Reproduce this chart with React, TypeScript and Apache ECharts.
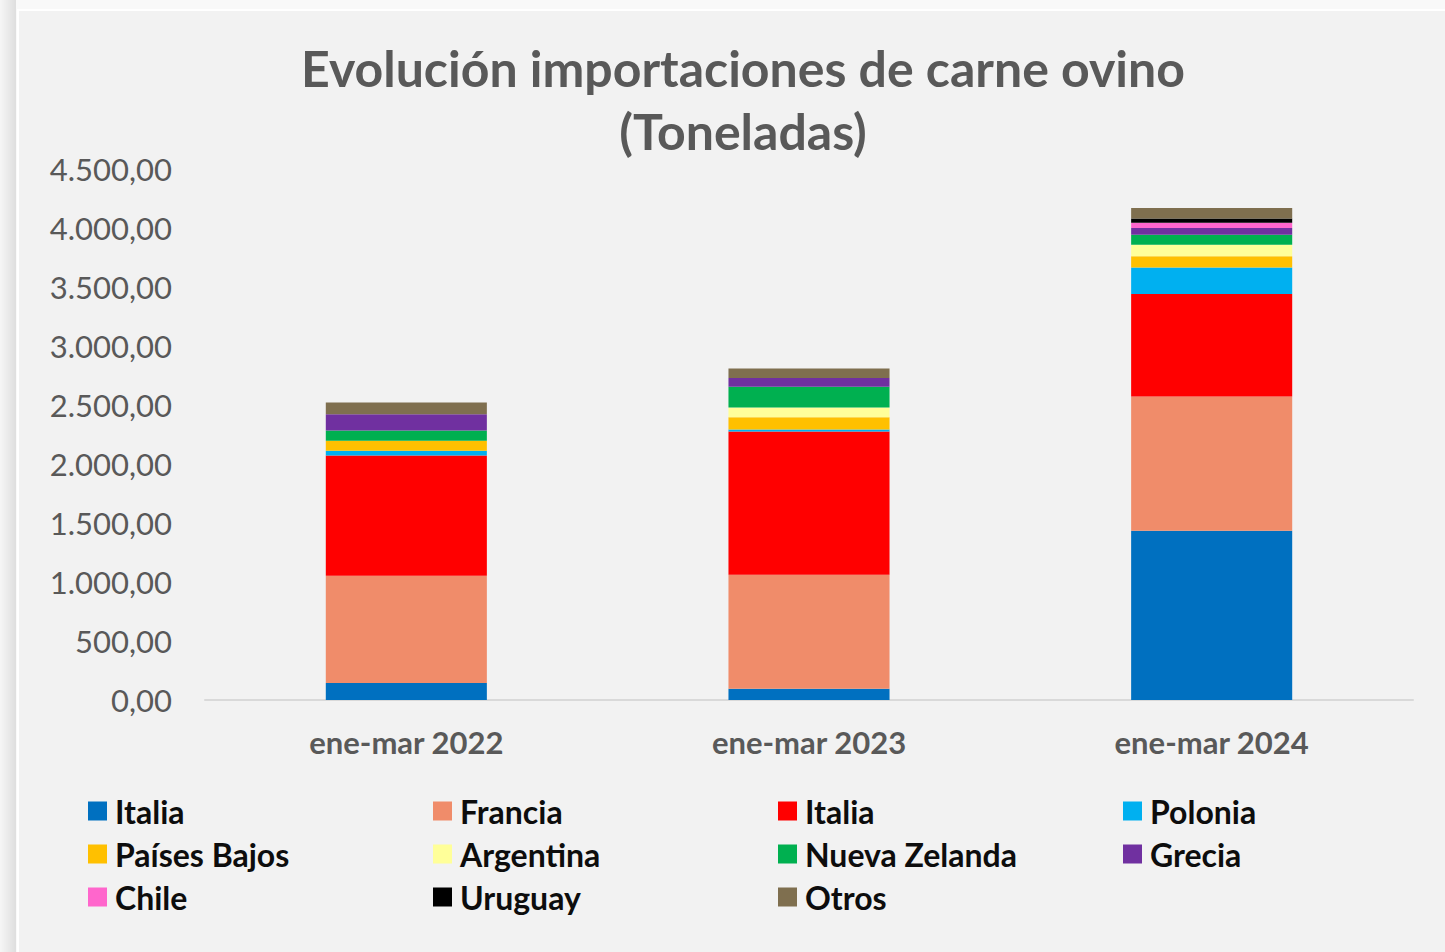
import React, { useEffect, useRef } from "react";
import * as echarts from "echarts";

const categories = ["ene-mar 2022", "ene-mar 2023", "ene-mar 2024"];
const seriesNames = [
  "Italia",
  "Francia",
  "Italia ",
  "Polonia",
  "Países Bajos",
  "Argentina",
  "Nueva Zelanda",
  "Grecia",
  "Chile",
  "Uruguay",
  "Otros",
];
const seriesColors = [
  "#0070c0",
  "#f08c6a",
  "#ff0000",
  "#00b0f0",
  "#ffc000",
  "#ffff99",
  "#00b050",
  "#7030a0",
  "#ff66cc",
  "#000000",
  "#7f6f4f",
];
const italiaAzul = [145, 95, 1435];
const francia = [908, 966, 1138];
const italiaRoja = [1019, 1214, 868];
const polonia = [41, 17, 224];
const paisesBajos = [85, 105, 96];
const argentina = [0, 82, 96];
const nuevaZelanda = [85, 176, 85];
const grecia = [139, 73, 57];
const chile = [0, 0, 45];
const uruguay = [0, 0, 37];
const otros = [100, 82, 88];
const seriesValues = [
  italiaAzul,
  francia,
  italiaRoja,
  polonia,
  paisesBajos,
  argentina,
  nuevaZelanda,
  grecia,
  chile,
  uruguay,
  otros,
];
const yTicks = [0, 500, 1000, 1500, 2000, 2500, 3000, 3500, 4000, 4500];
const legendColumns = [
  ["Italia", "Países Bajos", "Chile"],
  ["Francia", "Argentina", "Uruguay"],
  ["Italia ", "Nueva Zelanda", "Otros"],
  ["Polonia", "Grecia"],
];

const FONT = "Lato, 'Open Sans', sans-serif";

function fmt(v: number): string {
  const s = Math.round(v).toString();
  const withDots = s.replace(/\B(?=(\d{3})+(?!\d))/g, ".");
  return withDots + ",00";
}

export default function App() {
  const ref = useRef<HTMLDivElement>(null);
  useEffect(() => {
    document.body.style.margin = "0";
    const chart = echarts.init(ref.current!, null, { renderer: "svg" });
    const option: any = {
      animation: false,
      backgroundColor: "#f9f9f9",
      graphic: [
        {
          type: "rect",
          z: -10,
          shape: { x: 0, y: 0, width: 16, height: 952 },
          style: {
            fill: new echarts.graphic.LinearGradient(0, 0, 1, 0, [
              { offset: 0, color: "#f6f6f6" },
              { offset: 1, color: "#dedede" },
            ]),
          },
        },
        {
          type: "rect",
          z: -10,
          shape: { x: 17, y: 9, width: 1430, height: 945 },
          style: { fill: "#ffffff" },
        },
        {
          type: "rect",
          z: -9,
          shape: { x: 19, y: 11, width: 1430, height: 945 },
          style: { fill: "#f2f2f2" },
        },
      ],
      title: {
        text: "Evolución importaciones de carne ovino\n(Toneladas)",
        left: 738,
        textAlign: "center",
        top: 31,
        textStyle: {
          fontFamily: FONT,
          fontWeight: "bold",
          fontSize: 50,
          lineHeight: 63,
          color: "#595959",
        },
      },
      grid: { left: 205, right: 32, top: 169, bottom: 252 },
      xAxis: {
        type: "category",
        data: categories,
        axisLine: { lineStyle: { color: "#d9d9d9", width: 2 } },
        axisTick: { show: false },
        axisLabel: {
          fontFamily: FONT,
          fontWeight: "bold",
          fontSize: 31,
          color: "#595959",
          margin: 26,
        },
      },
      yAxis: {
        type: "value",
        min: yTicks[0],
        max: yTicks[yTicks.length - 1],
        interval: 500,
        splitLine: { show: false },
        axisLine: { show: false },
        axisTick: { show: false },
        axisLabel: {
          fontFamily: FONT,
          fontSize: 31,
          color: "#595959",
          margin: 33,
          formatter: (v: number) => fmt(v),
        },
      },
      legend: legendColumns.map((col, i) => ({
        data: col,
        orient: "vertical",
        left: 88 + i * 345,
        top: 795,
        padding: 0,
        itemWidth: 19,
        itemHeight: 19,
        itemGap: 11,
        icon: "rect",
        selectedMode: false,
        textStyle: {
          fontFamily: FONT,
          fontWeight: "bold",
          fontSize: 32,
          lineHeight: 32,
          color: "#0d0d0d",
          padding: [0, 0, 0, 3],
        },
      })),
      series: seriesNames.map((name, i) => ({
        name,
        type: "bar",
        stack: "total",
        barWidth: "40%",
        data: seriesValues[i],
        itemStyle: { color: seriesColors[i] },
      })),
    };
    chart.setOption(option);
    return () => chart.dispose();
  }, []);
  return (
    <div
      ref={ref}
      style={{ position: "absolute", left: 0, top: 0, width: 1445, height: 952 }}
    />
  );
}
